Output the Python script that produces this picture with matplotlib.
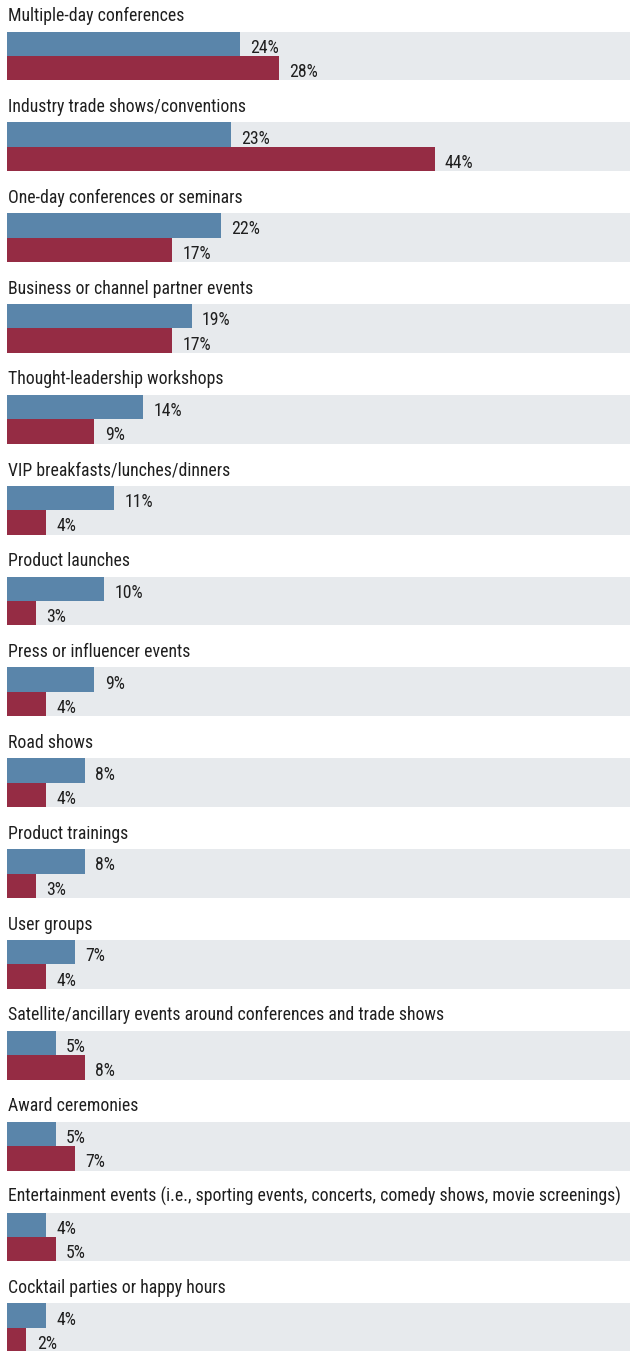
import matplotlib
matplotlib.use("Agg")
import matplotlib.pyplot as plt
from matplotlib.transforms import blended_transform_factory

categories = [
    "Multiple-day conferences",
    "Industry trade shows/conventions",
    "One-day conferences or seminars",
    "Business or channel partner events",
    "Thought-leadership workshops",
    "VIP breakfasts/lunches/dinners",
    "Product launches",
    "Press or influencer events",
    "Road shows",
    "Product trainings",
    "User groups",
    "Satellite/ancillary events around conferences and trade shows",
    "Award ceremonies",
    "Entertainment events (i.e., sporting events, concerts, comedy shows, movie screenings)",
    "Cocktail parties or happy hours",
]
series_blue = [24, 23, 22, 19, 14, 11, 10, 9, 8, 8, 7, 5, 5, 4, 4]
series_red = [28, 44, 17, 17, 9, 4, 3, 4, 4, 3, 4, 8, 7, 5, 2]

BLUE = "#5a85aa"
RED = "#952c44"
BAND = "#e7eaed"
TEXT = "#1f1f1f"
FAMILY = ["Roboto Condensed", "DejaVu Sans"]

W, H = 630, 1351
fig = plt.figure(figsize=(W / 100, H / 100), dpi=100)
ax = fig.add_axes([0, 0, 1, 1])
ax.set_axis_off()

px_per_pct = 9.72
left_px = 7
xmin = -left_px / px_per_pct
xmax = (W - left_px) / px_per_pct
ax.set_xlim(xmin, xmax)
ax.set_ylim(H, 0)

# fit title font size so the longest title spans ~618 px
renderer = fig.canvas.get_renderer()
probe = fig.text(0, 0, max(categories, key=len), fontsize=14, family=FAMILY)
wpx = probe.get_window_extent(renderer).width
probe.remove()
fs_title = 14 * 617 / wpx
fs_val = fs_title

step = 90.85
base0 = 21.0      # baseline of first title (px from top)
gap = 10.5        # title baseline -> band top
bar_h = 24.4
lab_dy = 9.0      # label baseline below bar centre

trans_title = blended_transform_factory(fig.transFigure, ax.transData)

for i, (cat, b, r) in enumerate(zip(categories, series_blue, series_red)):
    base = base0 + i * step
    top = base + gap
    yb = top + bar_h / 2
    yr = top + bar_h + bar_h / 2
    ax.barh([yb, yr], [xmax, xmax], left=0, height=bar_h, color=BAND, linewidth=0, zorder=1)
    ax.barh(yb, b, left=0, height=bar_h, color=BLUE, linewidth=0, zorder=2)
    ax.barh(yr, r, left=0, height=bar_h, color=RED, linewidth=0, zorder=2)
    ax.text(b + 1.05, yb + lab_dy, f"{b}%", va="baseline", ha="left", fontsize=fs_val,
            family=FAMILY, color=TEXT, zorder=3)
    ax.text(r + 1.05, yr + lab_dy, f"{r}%", va="baseline", ha="left", fontsize=fs_val,
            family=FAMILY, color=TEXT, zorder=3)
    ax.text(8 / W, base, cat, va="baseline", ha="left", fontsize=fs_title,
            family=FAMILY, color=TEXT, transform=trans_title)

fig.savefig("out.png", dpi=100, facecolor="white")
